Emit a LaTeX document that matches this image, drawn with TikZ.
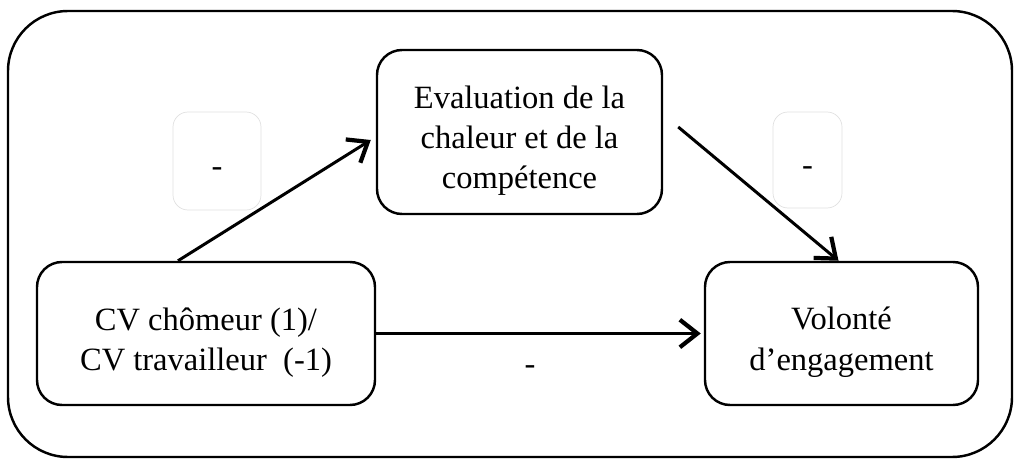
\documentclass[tikz,border=0pt]{standalone}
\usepackage{fontspec}
\setmainfont{Liberation Serif}
\usetikzlibrary{positioning}
\usetikzlibrary{arrows.meta}
\newcommand{\boxstrut}{\rule{0pt}{0.8cm}}

\begin{document}
\begin{tikzpicture}[x=1cm, y=1cm,
	style={align=center, font=\fontsize{18.5}{22.8}\selectfont},
	box/.style={draw, line width=1.4pt, rounded corners=0.5cm, inner sep=0pt},
	minusbox/.style={draw=black!12, line width=0.4pt, rounded corners=0.3cm, inner sep=0pt, execute at begin node=\rule{0pt}{0.62cm}},
	arr/.style={line width=1.7pt, -{Straight Barb[length=3.5mm, width=5.5mm, line width=2.4pt]}}]
	\useasboundingbox (0,0) rectangle (20.38,9.2);
	\draw[line width=1.4pt, rounded corners=1.2cm] (0.16,0.06) rectangle (20.24,8.98);
	\node[box, minimum width=5.7cm, minimum height=3.28cm] (eval) at (10.39,6.56) {\boxstrut Evaluation de la\\chaleur et de la\\compétence};
	\node[box, minimum width=6.76cm, minimum height=2.86cm] (cv) at (4.12,2.53) {\boxstrut CV chômeur (1)/\\CV travailleur~~(-1)};
	\node[box, minimum width=5.46cm, minimum height=2.86cm] (vol) at (16.83,2.53) {\boxstrut Volonté\\d’engagement};
	\node[minusbox, minimum width=1.76cm, minimum height=1.96cm] (m1) at (4.34,5.98) {-};
	\node[minusbox, minimum width=1.38cm, minimum height=1.92cm] (m2) at (16.15,6.0) {-};
	\node (m3) at (10.6,1.8) {-};
	\draw[arr] ([xshift=-0.56cm]cv.north) -- ([xshift=-0.1cm, yshift=-0.16cm]eval.west);
	\draw[arr] ([xshift=0.3cm, yshift=0.1cm]eval.east) -- ([xshift=-0.06cm]vol.north);
	\draw[arr] (cv.east) -- ([xshift=-0.06cm]vol.west);
\end{tikzpicture}
\end{document}
